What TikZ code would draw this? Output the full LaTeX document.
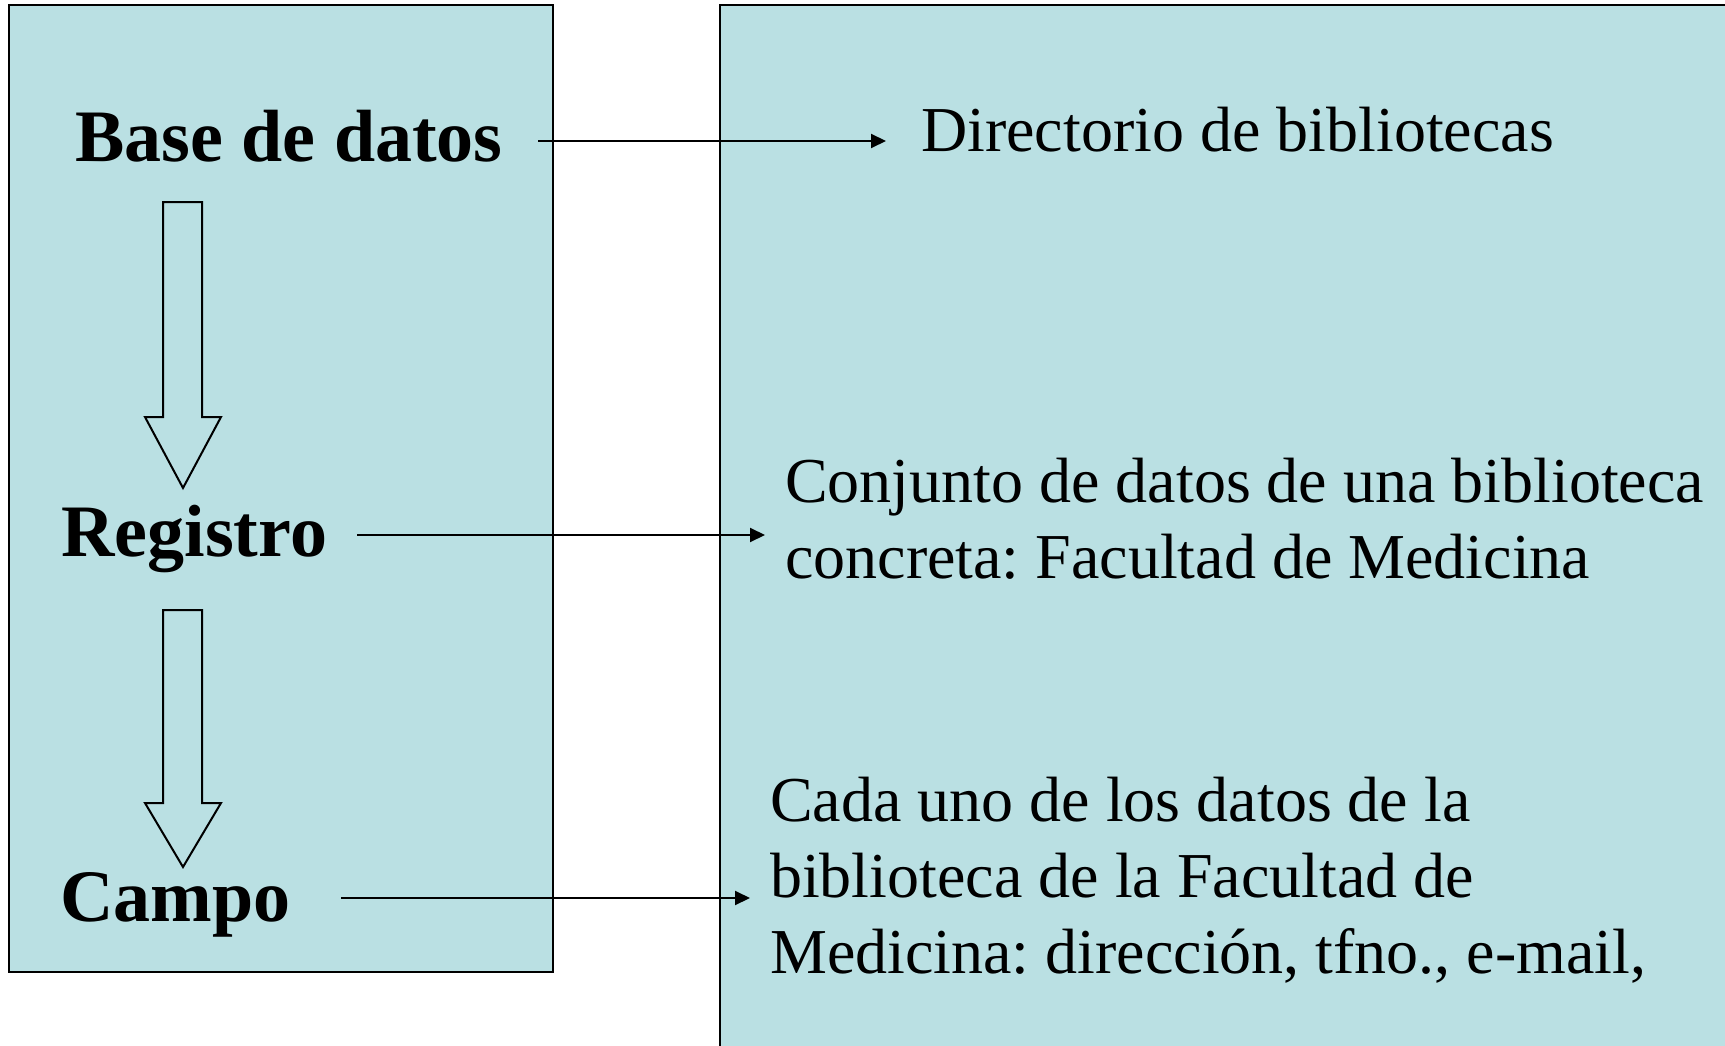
\documentclass[tikz,border=0pt]{standalone}
\usepackage{fontspec}
\setmainfont{Liberation Serif}
\usetikzlibrary{arrows.meta}
\definecolor{panel}{RGB}{186,224,227}
\tikzset{
  panelbox/.style={fill=panel,draw=black,line width=2pt},
  head/.style={font=\fontsize{74}{80}\selectfont\bfseries,inner sep=0pt,anchor=base west},
  desc/.style={font=\fontsize{64}{76}\selectfont\frenchspacing,inner sep=0pt,anchor=base west,align=left},
  conn/.style={line width=2pt,-{Triangle[length=15pt,width=14pt]}},
  blockarrow/.style={draw=black,line width=2pt,line join=miter}
}
\begin{document}
\begin{tikzpicture}[x=1pt,y=-1pt]
\useasboundingbox (0,0) rectangle (1725,1046);
\fill[white] (0,0) rectangle (1725,1046);
\draw[panelbox] (9,5) rectangle (553,972);
\fill[panel] (720,5) rectangle (1725,1046);
\draw[line width=2pt] (1725,5) -- (720,5) -- (720,1046);

\node[head] (bd) at (75,162) {Base de datos};
\node[head] (reg) at (61,556) {Registro};
\node[head] (cam) at (60,921) {Campo};

\node[desc] (dir) at (921,152) {Directorio de bibliotecas};
\node[desc] (conj) at (785,578) {Conjunto de datos de una biblioteca\\concreta: Facultad de Medicina};
\node[desc] (cada) at (770,973) {Cada uno de los datos de la\\biblioteca de la Facultad de\\Medicina: dirección, tfno., e-mail,};

\draw[blockarrow] (163,202) -- (202,202) -- (202,417) -- (221,417) -- (183,488) -- (145,417) -- (163,417) -- cycle;
\draw[blockarrow] (163,610) -- (202,610) -- (202,803) -- (221,803) -- (183,867) -- (145,803) -- (163,803) -- cycle;

\coordinate (s1) at ([xshift=35pt]bd.east |- 0,141);
\coordinate (e1) at (886,141);
\draw[conn] (s1) -- (e1);
\coordinate (s2) at (357,535);
\coordinate (e2) at (765,535);
\draw[conn] (s2) -- (e2);
\coordinate (s3) at (341,898);
\coordinate (e3) at (750,898);
\draw[conn] (s3) -- (e3);
\end{tikzpicture}
\end{document}
